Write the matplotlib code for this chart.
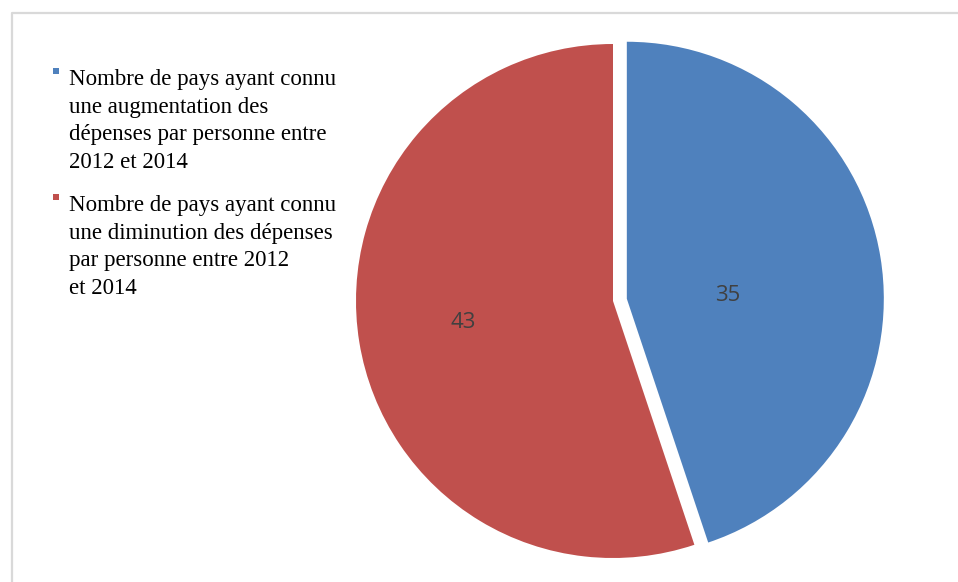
import numpy as np
import matplotlib
matplotlib.use("Agg")
from matplotlib import pyplot as plt

## data
values = [35, 43]
labels = ["Nombre de pays ayant connu\nune augmentation des\ndépenses par personne entre\n2012 et 2014",
          "Nombre de pays ayant connu\nune diminution des dépenses\npar personne entre 2012\net 2014"]
colors = ["#4F81BD", "#C0504D"]

W, H = 958, 582
fig = plt.figure(figsize=(W / 100, H / 100), dpi=100)
ax = fig.add_axes([0, 0, 1, 1])
ax.set_xlim(0, W)
ax.set_ylim(0, H)
ax.set_aspect("equal")
ax.axis("off")

# chart border (only left and top visible)
ax.plot([12, 12, W], [0, H - 12.5, H - 12.5], color="#d9d9d9", lw=1.6, solid_capstyle="butt")

# pie (explode is in data units here = pixels)
cx, cy, r = 613, H - 301, 257
wedges, _ = ax.pie(values, colors=colors, startangle=90, counterclock=False,
                   explode=[14, 0], center=(cx, cy), radius=r,
                   wedgeprops=dict(linewidth=0))
ax.set_xlim(0, W)
ax.set_ylim(0, H)

# value labels inside slices
label_frac = [0.39, 0.59]
nudge = [(2, -10), (0, 5)]
for w, v, f, (nx, ny) in zip(wedges, values, label_frac, nudge):
    th = np.deg2rad((w.theta1 + w.theta2) / 2)
    wx, wy = w.center
    ax.text(wx + f * r * np.cos(th) + nx, wy + f * r * np.sin(th) + ny, str(v),
            ha="center", va="center_baseline", fontsize=16, color="#404040",
            family=["Open Sans", "DejaVu Sans"])

# legend drawn by hand
first_base = [85, 211]
for lab, col, yb in zip(labels, colors, first_base):
    ax.add_patch(plt.Rectangle((53, H - yb + 11), 6, 6, color=col, lw=0))
    for i, line in enumerate(lab.split("\n")):
        ax.text(69, H - (yb + i * 27.5), line, ha="left", va="baseline",
                fontsize=16.5, family="Liberation Serif", color="black")

fig.savefig("out.png", dpi=100)
